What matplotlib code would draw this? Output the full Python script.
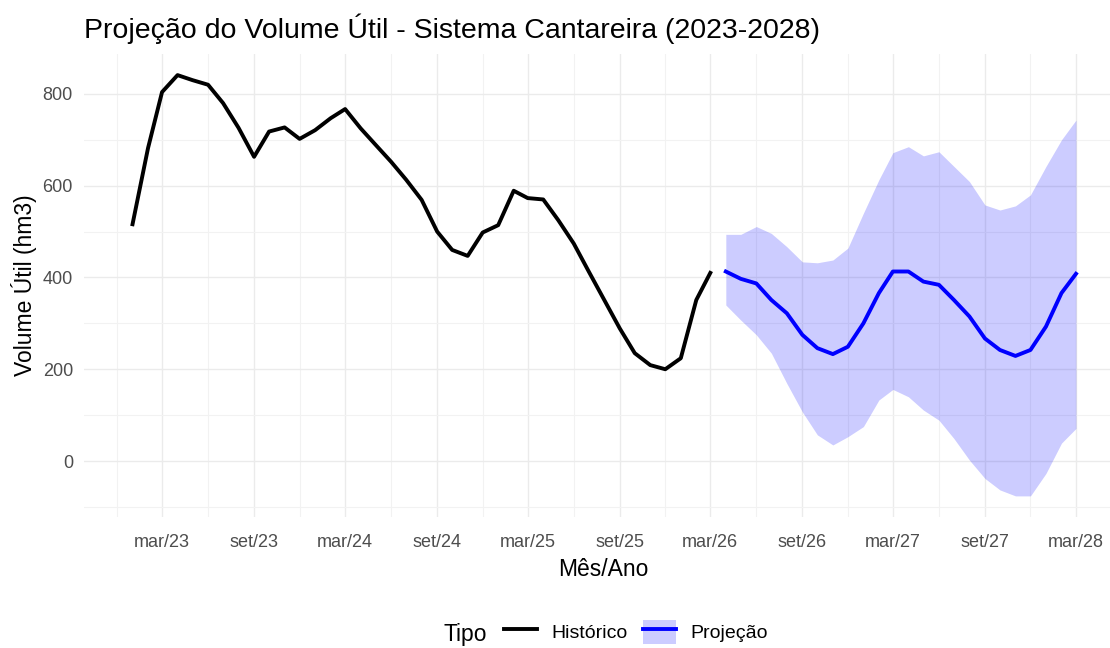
import matplotlib.pyplot as plt
import matplotlib.dates as mdates
from matplotlib.lines import Line2D
from matplotlib.patches import Patch
from matplotlib.legend_handler import HandlerTuple
import pandas as pd
import numpy as np

plt.rcParams['font.family'] = ['Liberation Sans', 'DejaVu Sans']

# -------------------------------
# Data
# -------------------------------
hist_start = "2023-01-01"
hist_vol = [516, 682, 804, 841, 830, 820, 780, 726, 663, 718, 727, 702,
            721, 747, 767, 725, 689, 652, 613, 569, 500, 460, 447, 498,
            514, 589, 573, 570, 525, 474, 413, 351, 289, 235, 209, 200,
            224, 351, 410]

proj_start = "2026-04-01"
proj_mean = [413, 397, 387, 351, 322, 275, 246, 233, 249, 300, 366, 413,
             413, 391, 384, 351, 315, 267, 242, 229, 242, 293, 366, 408]
proj_upper = [494, 494, 511, 496, 467, 434, 432, 438, 464, 540, 613, 672,
              685, 665, 674, 642, 609, 558, 547, 556, 580, 642, 700, 743]
proj_lower = [340, 307, 275, 235, 169, 107, 57, 35, 53, 75, 133, 156,
              140, 111, 89, 49, 2, -38, -63, -76, -76, -27, 39, 71]

month_abbr = ["jan", "fev", "mar", "abr", "mai", "jun",
              "jul", "ago", "set", "out", "nov", "dez"]
tick_dates = ["2023-03-01", "2023-09-01", "2024-03-01", "2024-09-01",
              "2025-03-01", "2025-09-01", "2026-03-01", "2026-09-01",
              "2027-03-01", "2027-09-01", "2028-03-01"]
minor_dates = ["2022-12-01", "2023-06-01", "2023-12-01", "2024-06-01",
               "2024-12-01", "2025-06-01", "2025-12-01", "2026-06-01",
               "2026-12-01", "2027-06-01", "2027-12-01"]

hist_dates = pd.date_range(hist_start, periods=len(hist_vol), freq="MS")
proj_dates = pd.date_range(proj_start, periods=len(proj_mean), freq="MS")

# -------------------------------
# Figure
# -------------------------------
W, H = 1110, 648
LW = 2.8
fig = plt.figure(figsize=(W / 100, H / 100), dpi=100)
ax = fig.add_axes([84 / W, 1 - 517 / H, (W - 84) / W, (517 - 54) / H])

ax.fill_between(proj_dates, proj_lower, proj_upper, color="blue", alpha=0.2,
                linewidth=0)
ax.plot(hist_dates, hist_vol, color="black", lw=LW, solid_joinstyle="round")
ax.plot(proj_dates, proj_mean, color="blue", lw=LW, solid_joinstyle="round")

# axis limits (ggplot-style expansion, panel cut at the right border)
x0 = mdates.date2num(pd.Timestamp("2023-03-01")) - 156
x1 = mdates.date2num(pd.Timestamp("2028-03-01")) + 68
ax.set_xlim(x0, x1)
ax.set_ylim(-122, 887)

ax.set_xticks(pd.to_datetime(tick_dates))
ax.set_xticklabels([f"{month_abbr[d.month - 1]}/{d.year % 100:02d}"
                    for d in pd.to_datetime(tick_dates)])
ax.set_xticks(pd.to_datetime(minor_dates), minor=True)
ax.set_yticks([0, 200, 400, 600, 800])
ax.set_yticks([-100, 100, 300, 500, 700], minor=True)

ax.grid(True, which="major", color="#EBEBEB", lw=1.0)
ax.grid(True, which="minor", color="#F2F2F2", lw=0.8)
ax.set_axisbelow(True)
for s in ax.spines.values():
    s.set_visible(False)
ax.tick_params(which="both", length=0)
ax.tick_params(axis="x", labelsize=13, labelcolor="#4D4D4D", pad=12)
ax.tick_params(axis="y", labelsize=13, labelcolor="#4D4D4D", pad=8)

ax.set_xlabel("Mês/Ano", fontsize=16.5)
ax.set_ylabel("Volume Útil (hm3)", fontsize=16.5)
ax.xaxis.set_label_coords((603 - 84) / (W - 84), -(558 - 517) / (517 - 54))
ax.yaxis.set_label_coords(-(84 - 37) / (W - 84), 0.5)

fig.text(84 / W, 1 - 29 / H, "Projeção do Volume Útil - Sistema Cantareira (2023-2028)",
         fontsize=20.5, ha="left", va="center")

# -------------------------------
# Legend
# -------------------------------
fig.text(443 / W, 1 - 634 / H, "Tipo", fontsize=16.5, ha="left", va="center")
h_hist = Line2D([], [], color="black", lw=LW)
h_proj = (Patch(facecolor="blue", alpha=0.2, edgecolor="none"),
          Line2D([], [], color="blue", lw=LW))
fig.legend([h_hist, h_proj], ["Histórico", "Projeção"],
           handler_map={tuple: HandlerTuple(ndivide=1, pad=0)},
           loc="center left", bbox_to_anchor=(486 / W, 1 - 632 / H),
           ncol=2, frameon=False, fontsize=14, handlelength=1.7,
           handleheight=1.55, handletextpad=0.75, columnspacing=0.8)

fig.savefig("out.png", dpi=100)
